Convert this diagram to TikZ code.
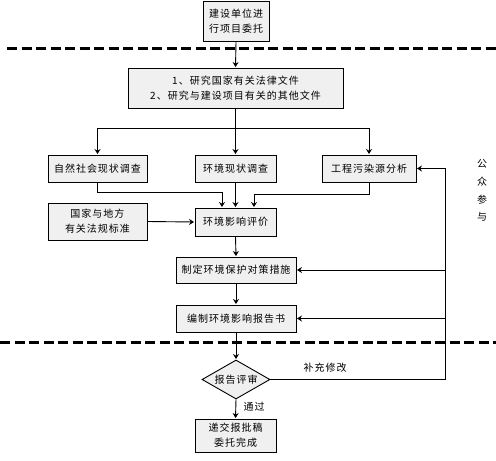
\documentclass[tikz,border=0pt]{standalone}
\usepackage{fontspec}
\newfontfamily\cjk[LetterSpace=10]{Noto Sans CJK SC}
\usetikzlibrary{shapes.geometric,arrows.meta,calc}
\begin{document}
\begin{tikzpicture}[x=1pt,y=-1pt,
  font=\cjk\fontsize{10}{15}\selectfont,
  box/.style={draw,line width=0.9pt,fill=gray!12,inner sep=0pt,align=center},
  arr/.style={-{Stealth[length=5pt,width=6pt]},line width=0.9pt,shorten >=0.5pt},
  sep/.style={line width=3pt,dash pattern=on 10pt off 4.5pt}]
\useasboundingbox (0,0) rectangle (496,461);
\node[box,minimum width=66pt,minimum height=40pt] (top) at (236,21.5) {建设单位进\\行项目委托};
\node[box,minimum width=215pt,minimum height=40pt] (docs) at (235.5,88) {1、研究国家有关法律文件\\2、研究与建设项目有关的其他文件};
\node[box,minimum width=99pt,minimum height=27pt] (A) at (97.5,168.5) {自然社会现状调查};
\node[box,minimum width=81pt,minimum height=27pt] (B) at (235.5,168.5) {环境现状调查};
\node[box,minimum width=94pt,minimum height=27pt] (C) at (369,168.5) {工程污染源分析};
\node[box,minimum width=99pt,minimum height=37pt] (law) at (97.5,221.5) {国家与地方\\有关法规标准};
\node[box,minimum width=81pt,minimum height=28pt] (eval) at (235.5,222) {环境影响评价};
\node[box,minimum width=120pt,minimum height=26pt] (meas) at (236,270) {制定环境保护对策措施};
\node[box,minimum width=120pt,minimum height=27pt] (rep) at (236,318.5) {编制环境影响报告书};
\node[draw,line width=0.9pt,fill=gray!12,diamond,aspect=1.75,inner sep=0pt,minimum width=68pt,minimum height=39pt] (dia) at (236,379.5) {报告评审};
\node[box,minimum width=81pt,minimum height=33pt] (fin) at (235.5,435.5) {递交报批稿\\委托完成};
\node[align=center,font=\cjk\fontsize{10}{17.7}\selectfont,inner sep=0pt] (pub) at (482,190.5) {公\\众\\参\\与};
\node[inner sep=0pt] (lbl1) at (325,368) {补充修改};
\node[inner sep=0pt] (lbl2) at (254,407) {通过};
% separators
\coordinate (s1a) at (7,48); \coordinate (s1b) at (496,48);
\coordinate (s2a) at (0,342); \coordinate (s2b) at (496,342);
\draw[sep] (s1a) -- (s1b);
\draw[sep] (s2a) -- (s2b);
% connectors
\draw[arr] (top.south) -- (docs.north);
\coordinate (br) at (236,128);
\draw[arr] (docs.south) -- (B.north);
\draw[arr] (br) -| (A.north);
\draw[arr] (br) -| (C.north);
\coordinate (jA) at (222,192);
\coordinate (jC) at (254,194);
\draw[arr] (A.south) |- (jA) -- (eval.north -| jA);
\draw[arr] (B.south) -- (eval.north);
\draw[arr] (C.south) |- (jC) -- (eval.north -| jC);
\draw[arr] (law.east) -- (eval.west);
\draw[arr] (eval.south) -- (meas.north);
\draw[arr] (meas.south) -- (rep.north);
\draw[arr] (rep.south) -- (dia.north);
\draw[arr] (dia.south) -- (fin.north);
\coordinate (fb) at (445,379.5);
\draw[arr] (dia.east) -- (fb) |- (C.east);
\draw[arr] (fb |- meas.east) -- (meas.east);
\draw[arr] (fb |- rep.east) -- (rep.east);
\end{tikzpicture}
\end{document}
